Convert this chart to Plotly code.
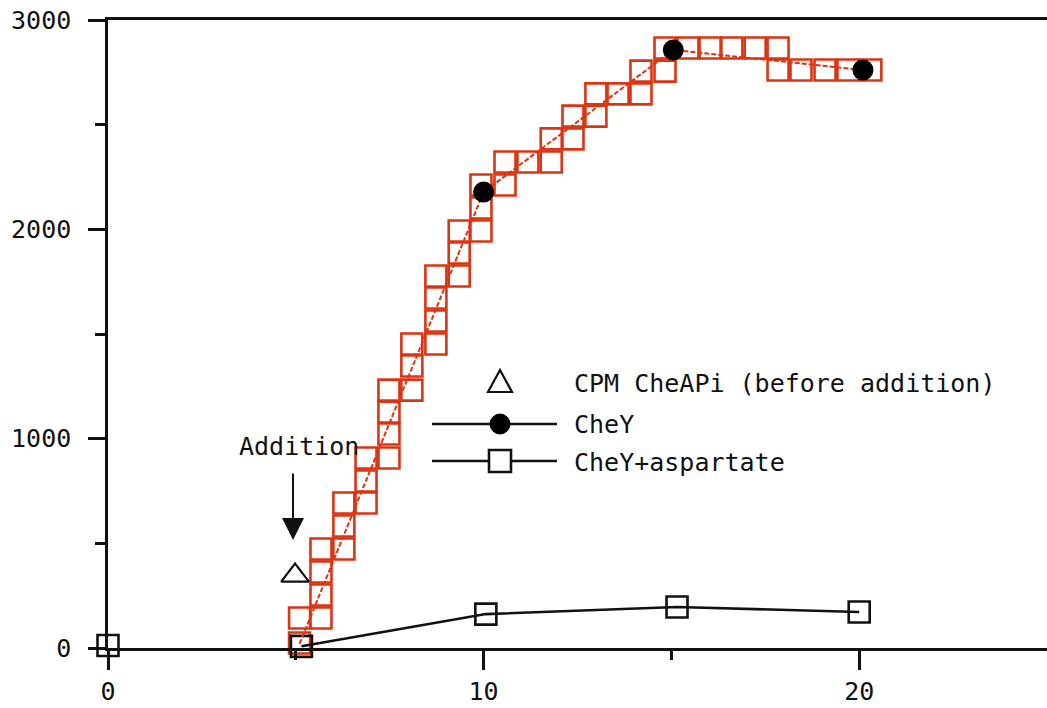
import plotly.graph_objects as go

# ---------------- data ----------------
chey_x = [5.1, 10.0, 15.05, 20.1]
chey_y = [20, 2178, 2857, 2761]

asp_x = [0.0, None, 5.15, 10.06, 15.15, 20.0]
asp_y = [12, None, 8, 162, 196, 172]

cpm_x = [4.98]
cpm_y = [346]

# red highlighted square trail along the CheY curve
red_x = [5.1, 5.1, 5.67, 5.67, 5.67, 5.67, 6.28, 6.28, 6.28, 6.87, 6.87, 6.87,
         7.48, 7.48, 7.48, 7.48, 8.09, 8.09, 8.09, 8.73, 8.73, 8.73, 8.73,
         9.35, 9.35, 9.35, 9.93, 9.93, 9.93, 10.57, 10.57, 11.18, 11.80, 11.80,
         12.38, 12.38, 12.99, 12.99, 13.58, 14.19, 14.19, 14.83, 14.83, 15.44,
         16.03, 16.61, 17.23, 17.84, 17.84, 18.45, 19.09, 19.70, 20.31]
red_y = [24, 143, 143, 253, 363, 473, 473, 583, 693, 693, 798, 908,
         908, 1022, 1127, 1232, 1232, 1347, 1452, 1452, 1562, 1672, 1777,
         1777, 1887, 1992, 1992, 2102, 2212, 2212, 2322, 2322, 2322, 2432,
         2432, 2541, 2541, 2647, 2647, 2647, 2756, 2756, 2866, 2866,
         2866, 2866, 2866, 2866, 2761, 2761, 2761, 2761, 2761]

x_ticks = [0, 10, 20]
y_ticks = [0, 1000, 2000, 3000]
legend_labels = ["CPM CheAPi (before addition)", "CheY", "CheY+aspartate"]
annotation_text = "Addition"

# ---------------- style ----------------
OFF = 0                      # body margin removed by post_script below
W, H = 1047 - OFF, 708 - OFF
ML, MR, MT, MB = 108 - OFF, 0, 20 - OFF, 60
FONT = "DejaVu Sans Mono"
FS = 25
RED = "#dc3412"
INK = "#111111"

fig = go.Figure()

fig.add_trace(go.Scatter(
    x=red_x, y=red_y, mode="markers", showlegend=False, hoverinfo="skip",
    cliponaxis=False,
    marker=dict(symbol="square-open", size=21, color=RED, opacity=1,
                line=dict(width=2.6, color=RED)),
))

fig.add_trace(go.Scatter(
    x=asp_x, y=asp_y, mode="lines+markers", showlegend=False, connectgaps=False,
    cliponaxis=False,
    line=dict(color=INK, width=2.6),
    marker=dict(symbol="square", size=21, color="rgba(255,255,255,0)", opacity=1,
                line=dict(width=2.6, color=INK)),
))

fig.add_trace(go.Scatter(
    x=chey_x, y=chey_y, mode="lines+markers", showlegend=False,
    cliponaxis=False,
    line=dict(color=RED, width=2, dash="5px,2px"),
    marker=dict(symbol="circle", size=[0, 21, 21, 21], color="black", opacity=1,
                line=dict(width=0)),
))

fig.add_trace(go.Scatter(
    x=cpm_x, y=cpm_y, mode="markers", showlegend=False, cliponaxis=False,
    marker=dict(symbol="triangle-up-open", size=24, color=INK, opacity=1,
                line=dict(width=2.2, color=INK)),
))

# ---------------- legend drawn as decorations (screen pixel -> paper helpers) ----------------
pw = W - ML - MR
ph = H - MT - MB


def px(xs):
    return (xs - OFF - ML) / pw


def py(ys):
    return (H - MB - (ys - OFF)) / ph


shapes = []
tri = [(488, 392), (512, 392), (500, 370)]
shapes.append(dict(type="path", xref="paper", yref="paper",
                   path="M{},{} L{},{} L{},{} Z".format(px(tri[0][0]), py(tri[0][1]),
                                                         px(tri[1][0]), py(tri[1][1]),
                                                         px(tri[2][0]), py(tri[2][1])),
                   line=dict(color=INK, width=2.2), fillcolor="white"))
shapes.append(dict(type="line", xref="paper", yref="paper", x0=px(432), x1=px(557),
                   y0=py(424), y1=py(424), line=dict(color=INK, width=2.6)))
shapes.append(dict(type="circle", xref="paper", yref="paper", x0=px(490), x1=px(510),
                   y0=py(434), y1=py(414), line=dict(color="black", width=1), fillcolor="black"))
shapes.append(dict(type="line", xref="paper", yref="paper", x0=px(432), x1=px(557),
                   y0=py(461), y1=py(461), line=dict(color=INK, width=2.6)))
shapes.append(dict(type="rect", xref="paper", yref="paper", x0=px(489), x1=px(511),
                   y0=py(472), y1=py(450), line=dict(color=INK, width=2.6), fillcolor="white"))

annotations = []
for lbl, yp in zip(legend_labels, [383, 424, 462]):
    annotations.append(dict(xref="paper", yref="paper", x=px(572), y=py(yp), text=lbl,
                            showarrow=False, xanchor="left", yanchor="middle",
                            font=dict(family=FONT, size=FS, color=INK)))

# "Addition" label and its down arrow
annotations.append(dict(xref="paper", yref="paper", x=px(299), y=py(446), text=annotation_text,
                        showarrow=False, xanchor="center", yanchor="middle",
                        font=dict(family=FONT, size=FS, color=INK)))
annotations.append(dict(xref="paper", yref="paper", x=px(293), y=py(540), text="",
                        showarrow=True, ax=0, ay=-68, arrowhead=2, arrowsize=2.2,
                        arrowwidth=2, arrowcolor=INK))

fig.update_layout(
    width=W, height=H,
    margin=dict(l=ML, r=MR, t=MT, b=MB, autoexpand=False),
    paper_bgcolor="white", plot_bgcolor="white",
    font=dict(family=FONT, size=FS, color=INK),
    shapes=shapes, annotations=annotations,
    showlegend=False,
)

fig.update_xaxes(
    range=[0, 25], tickvals=x_ticks, ticktext=[str(v) for v in x_ticks],
    ticks="outside", ticklen=19, tickwidth=2.5, tickcolor=INK,
    showline=True, linewidth=2.5, linecolor=INK, mirror=True,
    showgrid=False, zeroline=False, automargin=False, ticklabelstandoff=0,
    ticklabeloverflow="allow",
    tickfont=dict(family=FONT, size=FS, color=INK),
    minor=dict(tickvals=[5, 15], ticks="outside", ticklen=9, tickwidth=2.5, tickcolor=INK),
)
fig.update_yaxes(
    range=[0, 3000], tickvals=y_ticks, ticktext=[str(v) for v in y_ticks],
    ticks="outside", ticklen=17, tickwidth=2.5, tickcolor=INK,
    showline=True, linewidth=2.5, linecolor=INK, mirror=False,
    showgrid=False, zeroline=False, automargin=False, ticklabelstandoff=12,
    ticklabeloverflow="allow",
    tickfont=dict(family=FONT, size=FS, color=INK),
    minor=dict(tickvals=[500, 1500, 2500], ticks="outside", ticklen=10, tickwidth=2.5, tickcolor=INK),
)

fig.write_html("out.html", config={"displayModeBar": False},
               post_script="document.body.style.margin='0px';document.body.style.overflow='hidden';")
